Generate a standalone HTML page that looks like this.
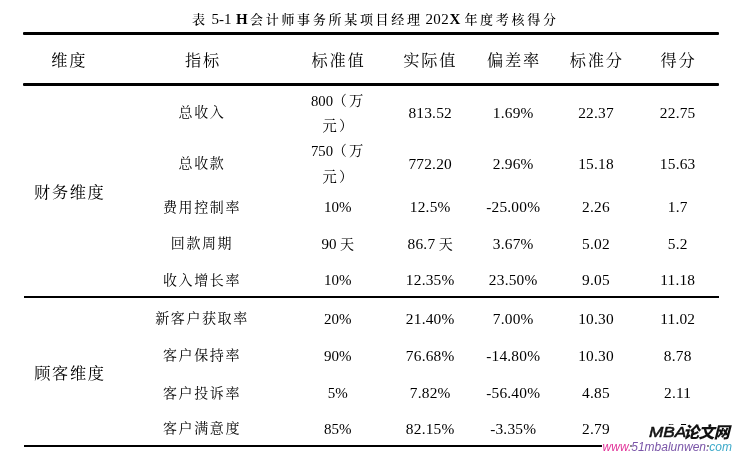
<!DOCTYPE html>
<html lang="zh-CN"><head><meta charset="utf-8"><title>表 5-1</title>
<style>
html,body{margin:0;padding:0;background:#fff;}
body{width:734px;height:453px;position:relative;overflow:hidden;color:#000;
 font-family:"Liberation Serif","Noto Serif CJK SC",serif;}
.t{position:absolute;white-space:nowrap;transform:translate(-50%,-50%);line-height:1;}
.cap{font-size:13px;transform:translate(0,-50%);}
.cap .k{letter-spacing:2.7px;font-weight:500;}
.cap .l{font-size:15px;letter-spacing:0.4px}
.h{font-size:16.2px;letter-spacing:1.8px;margin-left:0.9px;}
.d{font-size:14px;letter-spacing:1.6px;margin-left:0px;}
.dim{font-size:16.2px;letter-spacing:1.6px;margin-left:0.8px}
.n{font-size:15.4px;letter-spacing:0.2px;margin-left:0.2px}
.n .cj{font-size:14px;}
.n3{font-size:15px;letter-spacing:0;margin-left:0.3px}
.tl{transform:translate(0,-50%);}
.u{font-size:14.7px;}
.uc{font-size:14.3px;}
.ln{position:absolute;background:#000;}
.cj{letter-spacing:0;}
.wm{position:absolute;background:#fff;}
.ws{font-family:'Liberation Sans','Noto Sans CJK SC',sans-serif;font-style:italic;color:#111;}
</style></head><body>
<div class="t cap" style="left:192.0px;top:19px"><span class="k">表</span></div>
<div class="t cap" style="left:211.5px;top:19px"><span class="l" style="letter-spacing:0">5-1</span></div>
<div class="t cap" style="left:236.0px;top:19px"><b class="l">H</b></div>
<div class="t cap" style="left:250.0px;top:19px"><span class="k">会计师事务所某项目经理</span></div>
<div class="t cap" style="left:425.4px;top:19px"><span class="l">202</span></div>
<div class="t cap" style="left:449.6px;top:19px"><b class="l">X</b></div>
<div class="t cap" style="left:464.4px;top:19px"><span class="k">年度考核得分</span></div>
<div class="ln" style="left:23.2px;top:32px;width:696px;height:3px;border-radius:1px"></div>
<div class="ln" style="left:23.2px;top:83px;width:696px;height:3px;border-radius:1px"></div>
<div class="ln" style="left:23.6px;top:296px;width:695.6px;height:2px"></div>
<div class="ln" style="left:23.6px;top:445px;width:695.6px;height:2px"></div>
<div class="t h" style="left:68.3px;top:61.2px">维度</div>
<div class="t h" style="left:202.0px;top:61.2px">指标</div>
<div class="t h" style="left:337.5px;top:61.2px">标准值</div>
<div class="t h" style="left:429.3px;top:61.2px">实际值</div>
<div class="t h" style="left:513.0px;top:61.2px">偏差率</div>
<div class="t h" style="left:595.8px;top:61.2px">标准分</div>
<div class="t h" style="left:677.5px;top:61.2px">得分</div>
<div class="t dim" style="left:68.9px;top:192.8px">财务维度</div>
<div class="t dim" style="left:69.1px;top:373.9px">顾客维度</div>
<div class="t tl u" style="left:311px;top:100.5px">800</div>
<div class="t tl uc" style="left:332.4px;top:100.5px">（</div>
<div class="t tl uc" style="left:349px;top:100.5px">万</div>
<div class="t tl uc" style="left:322.6px;top:126.4px">元</div>
<div class="t tl uc" style="left:339px;top:126.4px">）</div>
<div class="t tl u" style="left:311px;top:150.5px">750</div>
<div class="t tl uc" style="left:332.4px;top:150.5px">（</div>
<div class="t tl uc" style="left:349px;top:150.5px">万</div>
<div class="t tl uc" style="left:322.6px;top:176.8px">元</div>
<div class="t tl uc" style="left:339px;top:176.8px">）</div>
<div class="t d" style="left:202px;top:112.9px">总收入</div>
<div class="t n" style="left:430px;top:113.3px">813.52</div>
<div class="t n" style="left:513px;top:113.3px">1.69%</div>
<div class="t n" style="left:595.8px;top:113.3px">22.37</div>
<div class="t n" style="left:677.5px;top:113.3px">22.75</div>
<div class="t d" style="left:202px;top:163.9px">总收款</div>
<div class="t n" style="left:430px;top:164.3px">772.20</div>
<div class="t n" style="left:513px;top:164.3px">2.96%</div>
<div class="t n" style="left:595.8px;top:164.3px">15.18</div>
<div class="t n" style="left:677.5px;top:164.3px">15.63</div>
<div class="t d" style="left:202px;top:207.8px">费用控制率</div>
<div class="t n n3" style="left:337.5px;top:207.4px">10%</div>
<div class="t n" style="left:430px;top:207.4px">12.5%</div>
<div class="t n" style="left:513px;top:207.4px">-25.00%</div>
<div class="t n" style="left:595.8px;top:207.4px">2.26</div>
<div class="t n" style="left:677.5px;top:207.4px">1.7</div>
<div class="t d" style="left:202px;top:244.2px">回款周期</div>
<div class="t n n3" style="left:337.5px;top:243.8px">90<span class="cj"> 天</span></div>
<div class="t n" style="left:430px;top:243.8px">86.7<span class="cj"> 天</span></div>
<div class="t n" style="left:513px;top:243.8px">3.67%</div>
<div class="t n" style="left:595.8px;top:243.8px">5.02</div>
<div class="t n" style="left:677.5px;top:243.8px">5.2</div>
<div class="t d" style="left:202px;top:280.6px">收入增长率</div>
<div class="t n n3" style="left:337.5px;top:280.2px">10%</div>
<div class="t n" style="left:430px;top:280.2px">12.35%</div>
<div class="t n" style="left:513px;top:280.2px">23.50%</div>
<div class="t n" style="left:595.8px;top:280.2px">9.05</div>
<div class="t n" style="left:677.5px;top:280.2px">11.18</div>
<div class="t d" style="left:202px;top:319.2px">新客户获取率</div>
<div class="t n n3" style="left:337.5px;top:318.8px">20%</div>
<div class="t n" style="left:430px;top:318.8px">21.40%</div>
<div class="t n" style="left:513px;top:318.8px">7.00%</div>
<div class="t n" style="left:595.8px;top:318.8px">10.30</div>
<div class="t n" style="left:677.5px;top:318.8px">11.02</div>
<div class="t d" style="left:202px;top:356.1px">客户保持率</div>
<div class="t n n3" style="left:337.5px;top:355.7px">90%</div>
<div class="t n" style="left:430px;top:355.7px">76.68%</div>
<div class="t n" style="left:513px;top:355.7px">-14.80%</div>
<div class="t n" style="left:595.8px;top:355.7px">10.30</div>
<div class="t n" style="left:677.5px;top:355.7px">8.78</div>
<div class="t d" style="left:202px;top:393.6px">客户投诉率</div>
<div class="t n n3" style="left:337.5px;top:393.2px">5%</div>
<div class="t n" style="left:430px;top:393.2px">7.82%</div>
<div class="t n" style="left:513px;top:393.2px">-56.40%</div>
<div class="t n" style="left:595.8px;top:393.2px">4.85</div>
<div class="t n" style="left:677.5px;top:393.2px">2.11</div>
<div class="t d" style="left:202px;top:428.9px">客户满意度</div>
<div class="t n n3" style="left:337.5px;top:428.5px">85%</div>
<div class="t n" style="left:430px;top:428.5px">82.15%</div>
<div class="t n" style="left:513px;top:428.5px">-3.35%</div>
<div class="t n" style="left:595.8px;top:428.5px">2.79</div>
<div class="t n" style="left:677.5px;top:428.5px">2.5</div>
<div class="wm" style="left:642px;top:425px;width:92px;height:17px"></div>
<div class="wm" style="left:601.6px;top:441px;width:133px;height:12px"></div>
<div class="ln" style="left:630.2px;top:445.2px;width:1.6px;height:1.4px;background:#8a8a8a"></div>
<div class="ln" style="left:707.2px;top:445.2px;width:1.6px;height:1.4px;background:#8a8a8a"></div>
<div class="t tl ws" style="left:648.6px;top:432.3px;font-size:15.4px;-webkit-text-stroke:0.55px #111;transform-origin:0 50%;transform:translate(0,-50%) scaleX(1.12)">MBA</div>
<div class="t tl ws" style="left:683.2px;top:433.2px;font-size:16px;font-weight:900;letter-spacing:-0.7px;">论文网</div>
<div class="t tl ws" style="left:602.6px;top:446.9px;font-size:12px;"><span style="color:#e2359a">www.</span><span style="color:#7a55a8">51mbalunwen.</span><span style="color:#3ba9c9">com</span></div>
</body></html>
